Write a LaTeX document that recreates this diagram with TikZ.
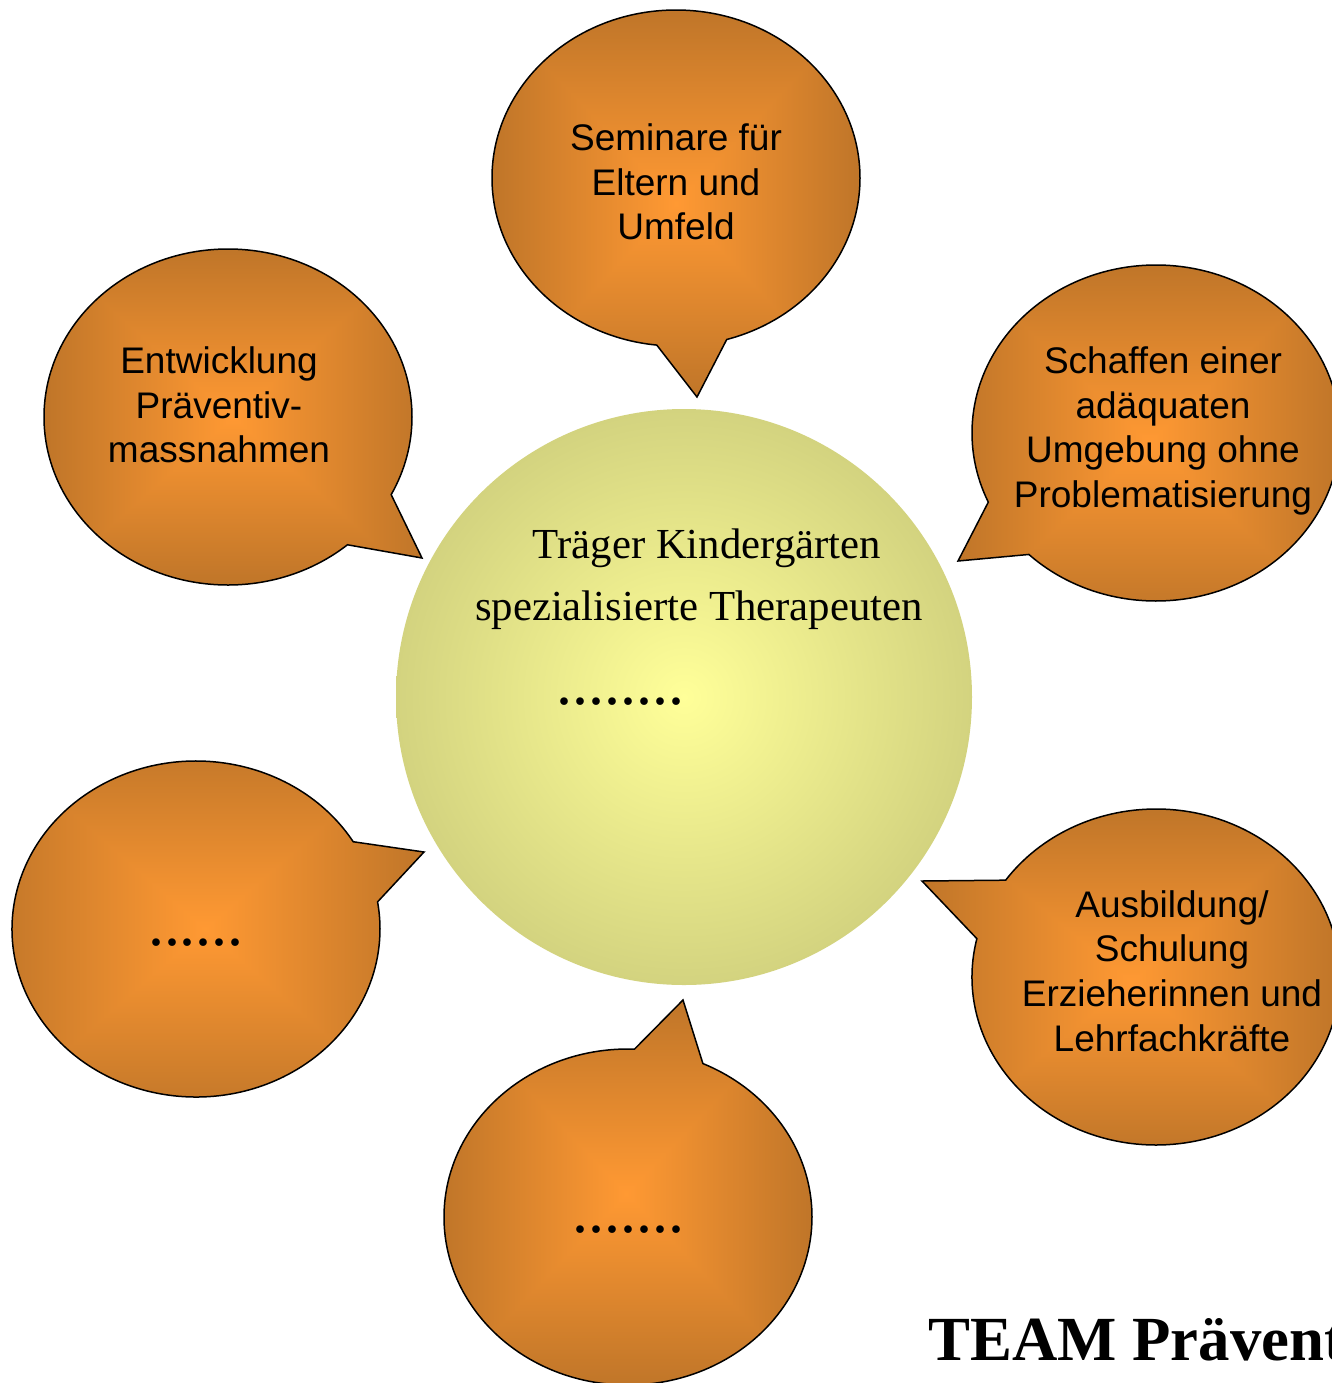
\documentclass[tikz,border=0pt]{standalone}
\usepackage{fontspec}
\setmainfont{Liberation Serif}
\newfontfamily\bubblefont{Liberation Sans}
\usetikzlibrary{shapes.callouts}

\definecolor{circlein}{RGB}{255,255,153}
\definecolor{circleout}{RGB}{211,211,127}

% orange, heller in der Mitte, rechteckiger Verlauf
\pgfdeclarefunctionalshading{bubbleshade}{\pgfpoint{-50bp}{-50bp}}{\pgfpoint{50bp}{50bp}}{}{%
  abs exch abs 2 copy lt {exch} if pop 25 div dup 1 gt {pop 1} if
  dup -0.25 mul 1 add exch dup -0.14 mul 0.6 add exch -0.04 mul 0.2 add}

\begin{document}
\begin{tikzpicture}[x=0.5pt,y=-0.5pt,
    bubble/.style={ellipse callout, draw, line width=0.75pt, shading=bubbleshade,
      minimum width=184pt, minimum height=168pt, inner sep=0pt, outer sep=0pt,
      callout pointer arc=22},
    bubbletext/.style={font=\bubblefont\fontsize{18.5}{22.3}\selectfont, align=center, inner sep=0pt},
    dotrow/.style={font=\fontsize{32}{34}\selectfont, inner sep=0pt}]
    \useasboundingbox (0,0) rectangle (1332,1383);
    \clip (0,0) rectangle (1332,1383);

    % Kreis in der Mitte
    \node[circle, minimum size=288pt, inner sep=0pt, inner color=circlein, outer color=circleout] (traeger) at (684,697) {};
    \node[anchor=base, inner sep=0pt, font=\fontsize{21.4}{25}\selectfont] (traegerA) at (707,558) {Träger Kindergärten};
    \node[anchor=base, inner sep=0pt, font=\fontsize{21.4}{25}\selectfont] (traegerB) at (699,620) {spezialisierte Therapeuten};
    \node[dotrow] (traegerdots) at (620,702) {........};

    % Sprechblasen
    \node[bubble, callout absolute pointer={(697,397)}] (seminare) at (676,178) {};
    \node[bubble, callout absolute pointer={(422,558)}] (entwicklung) at (228,417) {};
    \node[bubble, callout absolute pointer={(958,561)}] (schaffen) at (1156,433) {};
    \node[bubble, callout absolute pointer={(922,881)}] (ausbildung) at (1156,977) {};
    \node[bubble, callout absolute pointer={(424,852)}] (leerlinks) at (196,929) {};
    \node[bubble, callout absolute pointer={(683,1000)}] (leerunten) at (628,1217) {};

    \node[bubbletext] (seminaretext) at (676,182) {Seminare für\\Eltern und\\Umfeld};
    \node[bubbletext] (entwicklungtext) at (219,405) {Entwicklung\\Präventiv-\\massnahmen};
    \node[bubbletext] (schaffentext) at (1163,431) {Schaffen einer\\adäquaten\\Umgebung ohne\\Problematisierung};
    \node[bubbletext] (ausbildungtext) at (1172,971) {Ausbildung/\\Schulung\\Erzieherinnen und\\Lehrfachkräfte};
    \node[dotrow] (leerlinksdots) at (196,943) {......};
    \node[dotrow] (leeruntendots) at (628,1230) {.......};

    \node[anchor=base west, inner sep=0pt, font=\bfseries\fontsize{31.4}{36}\selectfont] (team) at (928,1360) {TEAM Prävent};
\end{tikzpicture}
\end{document}
